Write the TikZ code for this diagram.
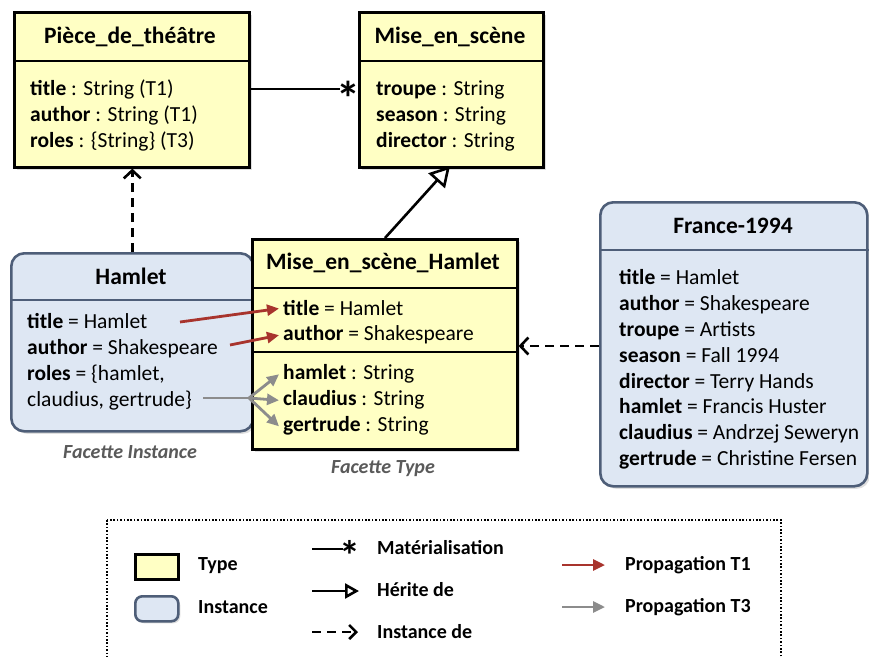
\documentclass[tikz,border=0pt]{standalone}
\usepackage{fontspec}
\setmainfont{Carlito}
\usetikzlibrary{arrows.meta,shadows}
\definecolor{typefill}{RGB}{255,255,196}
\definecolor{instfill}{RGB}{222,231,243}
\definecolor{instdraw}{RGB}{78,94,120}
\definecolor{tred}{RGB}{168,52,45}
\definecolor{tgray}{RGB}{140,140,140}
\definecolor{captxt}{RGB}{90,90,90}
\begin{document}
\begin{tikzpicture}[x=1pt,y=-1pt,
  every node/.style={inner sep=0pt},
  attr/.style={anchor=base west,font=\fontsize{21.5}{24}\selectfont},
  ttl/.style={anchor=center,font=\fontsize{23.5}{26}\selectfont\bfseries},
  leg/.style={anchor=west,font=\fontsize{20}{22}\selectfont\bfseries},
  facetcap/.style={anchor=center,font=\fontsize{20}{22}\selectfont\bfseries\itshape,text=captxt},
  typebox/.style={draw=black,line width=2.6pt,fill=typefill,anchor=north west,
    drop shadow={opacity=0.25,shadow xshift=2.5pt,shadow yshift=-2.5pt}},
  instbox/.style={draw=instdraw,line width=2.6pt,fill=instfill,rounded corners=13pt,anchor=north west,
    drop shadow={opacity=0.25,shadow xshift=2.5pt,shadow yshift=-2.5pt}},
  sep/.style={line width=2pt},
  assoc/.style={line width=2.6pt},
  inherit/.style={line width=2.6pt,-{Triangle[open,length=20pt,width=22pt,fill=white]}},
  instof/.style={line width=2.6pt,dash pattern=on 9pt off 6pt,-{Straight Barb[length=8pt,width=17pt]}},
  pt1/.style={draw=tred,line width=2.8pt,-{Triangle[length=12pt,width=11pt]}},
  pt3/.style={draw=tgray,line width=2.8pt,-{Triangle[length=12pt,width=11pt]}},
  pt3line/.style={draw=tgray,line width=2.8pt},
  startxt/.style={anchor=base,font=\fontsize{48}{48}\selectfont\bfseries},
  legstar/.style={anchor=base,font=\fontsize{42}{42}\selectfont\bfseries}
]
\clip (0,0) rectangle (869,656);
\fill[white] (0,0) rectangle (869,656);

% ---------- Piece_de_theatre
\node[typebox,minimum width=235pt,minimum height=155pt] (piece) at (13,11) {};
\draw[sep] (piece.west |- 0,61) -- (piece.east |- 0,61);
\node[ttl] (pieceT) at (130,37) {Pièce\_de\_théâtre};
\node[attr] (p1) at (30,95) {\textbf{title} : String (T1)};
\node[attr] (p2) at (30,121) {\textbf{author} : String (T1)};
\node[attr] (p3) at (30,147) {\textbf{roles} : \{String\} (T3)};

% ---------- Mise_en_scene
\node[typebox,minimum width=184pt,minimum height=155pt] (mes) at (358,11) {};
\draw[sep] (mes.west |- 0,61) -- (mes.east |- 0,61);
\node[ttl] (mesT) at (450,37) {Mise\_en\_scène};
\node[attr] (m1) at (376,95) {\textbf{troupe} : String};
\node[attr] (m2) at (376,121) {\textbf{season} : String};
\node[attr] (m3) at (376,147) {\textbf{director} : String};

% ---------- association
\node[startxt] (star) at (348,115) {*};
\draw[assoc] (piece.east |- 0,89) -- ([xshift=4pt]star.west |- 0,89);

% ---------- Hamlet (instance)
\node[instbox,minimum width=242pt,minimum height=178pt] (ham) at (10,252) {};
\draw[sep,draw=instdraw] (ham.west |- 0,300) -- (ham.east |- 0,300);
\node[ttl] (hamT) at (131,276) {Hamlet};
\node[attr] (h1) at (27,328) {\textbf{title} = Hamlet};
\node[attr] (h2) at (27,354) {\textbf{author} = Shakespeare};
\node[attr] (h3) at (27,380) {\textbf{roles} = \{hamlet,};
\node[attr] (h4) at (27,406) {claudius, gertrude\}};
\node[facetcap] (capI) at (130,452) {Facette Instance};

% ---------- Mise_en_scene_Hamlet
\node[typebox,minimum width=265pt,minimum height=210pt] (msh) at (251,238) {};
\draw[sep] (msh.west |- 0,288) -- (msh.east |- 0,288);
\draw[sep] (msh.west |- 0,352) -- (msh.east |- 0,352);
\node[ttl] (mshT) at (383,263) {Mise\_en\_scène\_Hamlet};
\node[attr] (s1) at (283,315) {\textbf{title} = Hamlet};
\node[attr] (s2) at (283,340) {\textbf{author} = Shakespeare};
\node[attr] (s3) at (283,379) {\textbf{hamlet} : String};
\node[attr] (s4) at (283,405) {\textbf{claudius} : String};
\node[attr] (s5) at (283,431) {\textbf{gertrude} : String};
\node[facetcap] (capT) at (383,469) {Facette Type};

% ---------- France-1994
\node[instbox,minimum width=267pt,minimum height=284pt] (fr) at (599,201) {};
\draw[sep,draw=instdraw] (fr.west |- 0,250) -- (fr.east |- 0,250);
\node[ttl] (frT) at (733,226) {France-1994};
\node[attr] (f1) at (619,284) {\textbf{title} = Hamlet};
\node[attr] (f2) at (619,310) {\textbf{author} = Shakespeare};
\node[attr] (f3) at (619,336) {\textbf{troupe} = Artists};
\node[attr] (f4) at (619,362) {\textbf{season} = Fall 1994};
\node[attr] (f5) at (619,388) {\textbf{director} = Terry Hands};
\node[attr] (f6) at (619,413) {\textbf{hamlet} = Francis Huster};
\node[attr] (f7) at (619,439) {\textbf{claudius} = Andrzej Seweryn};
\node[attr] (f8) at (619,465) {\textbf{gertrude} = Christine Fersen};

% ---------- connectors
\draw[instof] (ham.north) -- (ham.north |- piece.south);
\draw[inherit] (385,238) coordinate (inhS) -- (450,166) coordinate (inhE);
\draw[instof] (fr.west |- 0,346) -- (msh.east |- 0,346);

% propagation T1
\coordinate (r1s) at (180,322);
\coordinate (r2s) at (230,345);
\draw[pt1] (r1s) -- ([xshift=-4pt,yshift=-1pt]s1.west);
\draw[pt1] (r2s) -- ([xshift=-4pt,yshift=-1pt]s2.west);
% propagation T3
\coordinate (gs) at (203,398);
\coordinate (gf) at (249,398);
\draw[pt3line] (gs) -- (gf);
\draw[pt3] (gf) -- ([xshift=-4pt,yshift=-1pt]s3.west);
\draw[pt3] (gf) -- ([xshift=-4pt,yshift=-1pt]s4.west);
\draw[pt3] (gf) -- ([xshift=-4pt,yshift=-1pt]s5.west);

% ---------- legend
\draw[line width=1.6pt,dash pattern=on 1.6pt off 1.8pt] (107,520) rectangle (781,700);
\node[draw=black,line width=2.6pt,fill=typefill,minimum width=43pt,minimum height=25pt,anchor=north west,
  drop shadow={opacity=0.25,shadow xshift=2pt,shadow yshift=-2pt}] (legT) at (134,553) {};
\node[draw=instdraw,line width=2.6pt,fill=instfill,rounded corners=7pt,minimum width=43pt,minimum height=25pt,anchor=north west,
  drop shadow={opacity=0.25,shadow xshift=2pt,shadow yshift=-2pt}] (legI) at (134,595) {};
\node[leg] (legTt) at (198,566) {Type};
\node[leg] (legIt) at (198,607) {Instance};

\node[legstar] (lstar) at (350,570) {*};
\coordinate (la1) at (312,549);
\draw[assoc] (la1) -- ([xshift=4pt]lstar.west |- 0,549);
\node[leg] (lm) at (377,548) {Matérialisation};

\coordinate (lb1) at (312,591);
\coordinate (lb2) at (359,591);
\draw[inherit,-{Triangle[open,length=14pt,width=15pt,fill=white]}] (lb1) -- (lb2);
\node[leg] (lh) at (377,590) {Hérite de};

\coordinate (lc1) at (312,632);
\coordinate (lc2) at (358,632);
\draw[instof,-{Straight Barb[length=7pt,width=14pt]}] (lc1) -- (lc2);
\node[leg] (li) at (377,632) {Instance de};

\coordinate (ld1) at (562,565);
\coordinate (ld2) at (605,565);
\draw[pt1] (ld1) -- (ld2);
\node[leg] (lp1) at (625,565) {Propagation T1};
\coordinate (le1) at (562,607);
\coordinate (le2) at (605,607);
\draw[pt3] (le1) -- (le2);
\node[leg] (lp3) at (625,607) {Propagation T3};
\end{tikzpicture}
\end{document}
